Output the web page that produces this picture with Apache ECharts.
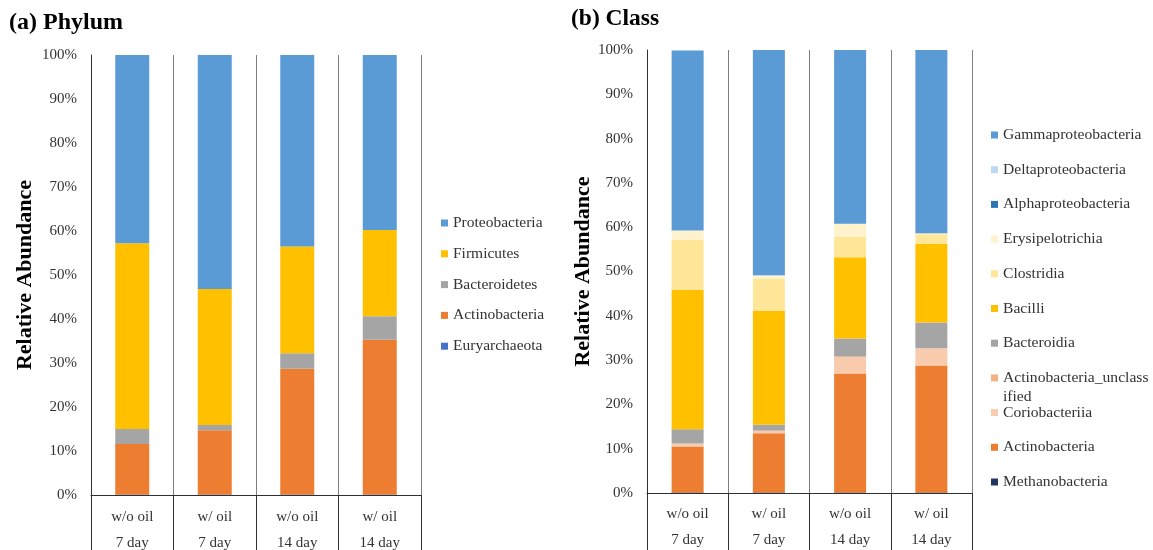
<!DOCTYPE html>
<html>
<head>
<meta charset="utf-8">
<script src="https://cdn.jsdelivr.net/npm/echarts@6/dist/echarts.min.js"></script>
<style>
  html, body { margin: 0; padding: 0; background: #fff; }
  #chart { width: 1153px; height: 550px; }
</style>
</head>
<body>
<div id="chart"></div>
<script>
// Sample groups (two-level category labels)
const treatments = ['w/o oil', 'w/ oil', 'w/o oil', 'w/ oil'];
const days = ['7 day', '7 day', '14 day', '14 day'];
const yTicks = [0, 10, 20, 30, 40, 50, 60, 70, 80, 90, 100];

// (a) Phylum level, relative abundance in %, bottom of the stack first
const phylumNames = ['Euryarchaeota', 'Actinobacteria', 'Bacteroidetes', 'Firmicutes', 'Proteobacteria'];
const euryarchaeota = [0.1, 0.1, 0.1, 0.1];
const actinobacteriaPhylum = [11.5, 14.6, 28.6, 35.2];
const bacteroidetes = [3.4, 1.2, 3.5, 5.3];
const firmicutes = [42.2, 30.9, 24.3, 19.6];
const proteobacteria = [42.8, 53.2, 43.5, 39.8];
const phylumColors = ['#4472C4', '#ED7D31', '#A5A5A5', '#FFC000', '#5B9BD5'];

// (b) Class level, relative abundance in %, bottom of the stack first
const classNames = ['Methanobacteria', 'Actinobacteria', 'Coriobacteriia', 'Actinobacteria_unclassified',
  'Bacteroidia', 'Bacilli', 'Clostridia', 'Erysipelotrichia', 'Alphaproteobacteria',
  'Deltaproteobacteria', 'Gammaproteobacteria'];
const methanobacteria = [0.1, 0.1, 0.1, 0.1];
const actinobacteriaClass = [10.4, 13.4, 26.9, 28.7];
const coriobacteriia = [0.6, 0.5, 3.7, 3.8];
const actinobacteriaUnclassified = [0.1, 0.1, 0.1, 0.1];
const bacteroidia = [3.2, 1.3, 4.1, 5.8];
const bacilli = [31.4, 25.7, 18.3, 17.7];
const clostridia = [11.3, 7.2, 4.7, 2.2];
const erysipelotrichia = [2.1, 0.8, 2.8, 0.2];
const alphaproteobacteria = [0.05, 0.05, 0.05, 0.05];
const deltaproteobacteria = [0.05, 0.05, 0.05, 0.05];
const gammaproteobacteria = [40.6, 50.8, 39.2, 41.3];
const classColors = ['#203864', '#ED7D31', '#F8CBAD', '#F4B183', '#A5A5A5', '#FFC000',
  '#FFE699', '#FFF2CC', '#2E75B6', '#BDD7EE', '#5B9BD5'];

const phylumValues = [euryarchaeota, actinobacteriaPhylum, bacteroidetes, firmicutes, proteobacteria];
const classValues = [methanobacteria, actinobacteriaClass, coriobacteriia, actinobacteriaUnclassified,
  bacteroidia, bacilli, clostridia, erysipelotrichia, alphaproteobacteria,
  deltaproteobacteria, gammaproteobacteria];

const categories = treatments.map((t, i) => t + '\n' + days[i]);
const FONT = '"Liberation Serif", "Times New Roman", serif';
const LEGEND_LINE = 19;

const chart = echarts.init(document.getElementById('chart'), null, { renderer: 'canvas' });

function xAxisFor(gridIndex, labelMargin) {
  return {
    type: 'category',
    gridIndex: gridIndex,
    data: categories,
    boundaryGap: true,
    axisLine: { show: true, lineStyle: { color: '#303030', width: 1 } },
    axisTick: { show: true, inside: false, length: 62, lineStyle: { color: '#303030', width: 1 } },
    splitLine: { show: true, lineStyle: { color: '#7f7f7f', width: 1 } },
    axisLabel: {
      interval: 0, margin: labelMargin, lineHeight: 26,
      fontFamily: FONT, fontSize: 15, color: '#333333'
    }
  };
}

function yAxisFor(gridIndex, nameGap) {
  return {
    type: 'value',
    gridIndex: gridIndex,
    min: yTicks[0], max: yTicks[yTicks.length - 1], interval: yTicks[1] - yTicks[0],
    name: 'Relative Abundance',
    nameLocation: 'middle',
    nameGap: nameGap,
    nameTextStyle: { fontFamily: FONT, fontSize: 22, fontWeight: 'bold', color: '#000' },
    axisLine: { show: true, lineStyle: { color: '#303030', width: 1 } },
    axisTick: { show: false },
    splitLine: { show: false },
    axisLabel: {
      margin: 14, formatter: '{value}%',
      fontFamily: FONT, fontSize: 15, color: '#333333'
    }
  };
}

function seriesFor(names, values, colors, axisIndex, barWidth) {
  return names.map((name, i) => ({
    name: name,
    type: 'bar',
    stack: 'panel' + axisIndex,
    xAxisIndex: axisIndex,
    yAxisIndex: axisIndex,
    barWidth: barWidth,
    itemStyle: { color: colors[i] },
    emphasis: { disabled: true },
    data: values[i]
  }));
}

// One legend block per entry so each row keeps a fixed pitch.
// The wrapped name gets a blank leading line so its marker sits on the first text line.
function legendsFor(names, left, firstCenter, pitch, fontSize) {
  const order = names.slice().reverse();
  return order.map((name, k) => {
    const wrapped = name === 'Actinobacteria_unclassified';
    const extra = wrapped ? LEGEND_LINE : 0;
    return {
      orient: 'vertical',
      left: left,
      top: firstCenter + k * pitch - LEGEND_LINE / 2 - extra,
      padding: 0,
      data: [name],
      icon: 'rect',
      itemWidth: 7,
      itemHeight: 7,
      itemGap: 0,
      selectedMode: false,
      formatter: n => wrapped ? ' \nActinobacteria_unclass\nified' : n,
      textStyle: {
        fontFamily: FONT, fontSize: fontSize, color: '#333333',
        lineHeight: LEGEND_LINE
      }
    };
  });
}

const option = {
  backgroundColor: '#ffffff',
  animation: false,
  title: [
    { text: '(a) Phylum', left: 9, top: 11, padding: 0,
      textStyle: { fontFamily: FONT, fontSize: 24, fontWeight: 'bold', color: '#000' } },
    { text: '(b) Class', left: 571, top: 7, padding: 0,
      textStyle: { fontFamily: FONT, fontSize: 23.5, fontWeight: 'bold', color: '#000' } }
  ],
  grid: [
    { left: 91, top: 55, width: 330, height: 440, containLabel: false, outerBoundsMode: 'none' },
    { left: 647, top: 50, width: 325, height: 443, containLabel: false, outerBoundsMode: 'none' }
  ],
  xAxis: [xAxisFor(0, 9), xAxisFor(1, 8)],
  yAxis: [yAxisFor(0, 55), yAxisFor(1, 53)],
  legend: legendsFor(phylumNames, 441, 223, 30.8, 15.5)
    .concat(legendsFor(classNames, 991, 135, 34.7, 15.6)),
  series: seriesFor(phylumNames, phylumValues, phylumColors, 0, 34)
    .concat(seriesFor(classNames, classValues, classColors, 1, 32))
};

chart.setOption(option);
</script>
</body>
</html>
